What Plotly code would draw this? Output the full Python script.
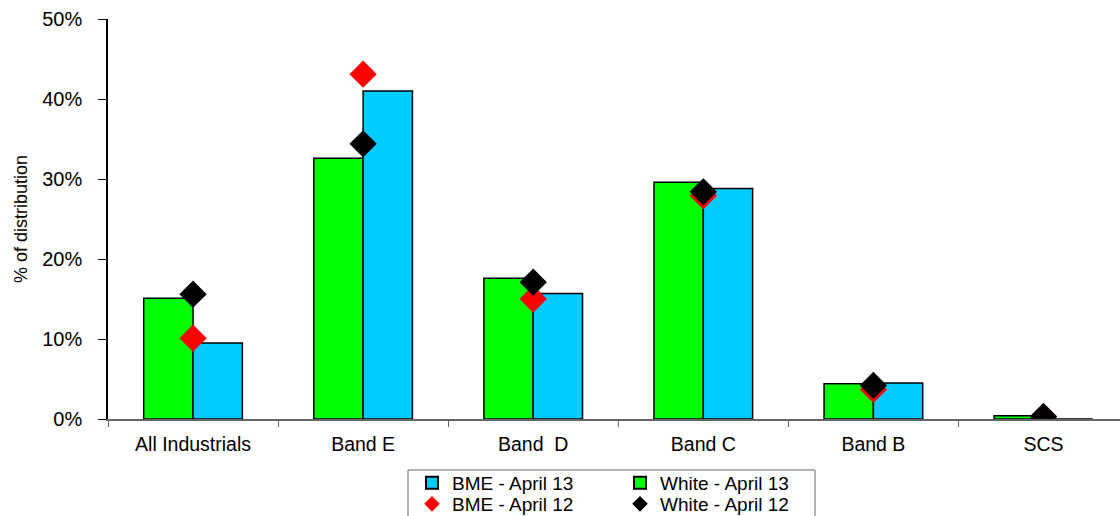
import plotly.graph_objects as go

categories = ["All Industrials", "Band E", "Band  D", "Band C", "Band B", "SCS"]
white_apr13 = [0.151, 0.326, 0.176, 0.296, 0.044, 0.004]
bme_apr13 = [0.095, 0.410, 0.157, 0.288, 0.045, 0.000]
bme_apr12 = [0.101, 0.431, 0.150, 0.279, 0.037, 0.003]
white_apr12 = [0.156, 0.344, 0.171, 0.284, 0.042, 0.003]
y_ticks = [0, 0.1, 0.2, 0.3, 0.4, 0.5]

FONT = "Liberation Sans, Arial, sans-serif"
W, H = 1120, 516
ML, MR, MT, MB = 108, 0, 19, 97
PW, PH = W - ML - MR, H - MT - MB


def px_x(x):
    return (x - ML) / PW


def px_y(y):
    return (H - MB - y) / PH


fig = go.Figure()
bar_line = dict(color="#000000", width=1.5)
fig.add_trace(go.Bar(x=categories, y=white_apr13, name="White - April 13",
                     marker=dict(color="#00FF00", line=bar_line),
                     legend="legend2"))
fig.add_trace(go.Bar(x=categories, y=bme_apr13, name="BME - April 13",
                     marker=dict(color="#00CCFF", line=bar_line),
                     legend="legend"))
fig.add_trace(go.Scatter(x=categories, y=bme_apr12, name="BME - April 12",
                         mode="markers",
                         marker=dict(symbol="diamond", size=21, color="#FF0000"),
                         legend="legend3"))
fig.add_trace(go.Scatter(x=categories, y=white_apr12, name="White - April 12",
                         mode="markers",
                         marker=dict(symbol="diamond", size=21, color="#000000"),
                         legend="legend4"))


def legend_box(x_px, y_px):
    # one legend entry per box, placed on a 2x2 grid
    return dict(
        font=dict(family=FONT, size=19, color="#000000"),
        bgcolor="rgba(0,0,0,0)", borderwidth=0,
        orientation="v", xanchor="left", yanchor="top",
        itemsizing="constant",
        x=px_x(x_px), y=px_y(y_px),
    )


fig.update_layout(
    width=W, height=H,
    margin=dict(l=ML, r=MR, t=MT, b=MB, pad=0, autoexpand=False),
    paper_bgcolor="#FFFFFF", plot_bgcolor="#FFFFFF",
    font=dict(family=FONT, size=19, color="#000000"),
    barmode="group", bargap=0.42, bargroupgap=0,
    showlegend=True,
    legend=legend_box(412, 464),
    legend2=legend_box(620, 464),
    legend3=legend_box(412, 485),
    legend4=legend_box(620, 485),
    shapes=[dict(type="rect", xref="paper", yref="paper",
                 x0=px_x(408), x1=px_x(815), y0=px_y(470), y1=px_y(530),
                 line=dict(color="#666666", width=1), fillcolor="rgba(0,0,0,0)")],
)

fig.update_xaxes(
    type="category", range=[-0.5, 5.45],
    showline=True, linecolor="#666666", linewidth=1.5,
    ticks="outside", ticklen=6, tickcolor="#666666", tickson="boundaries",
    tickfont=dict(family=FONT, size=19.5), ticklabelstandoff=7,
    showgrid=False, zeroline=False,
)
fig.update_yaxes(
    range=[0, 0.5], tickvals=y_ticks, tickformat=".0%",
    showline=True, linecolor="#000000", linewidth=1.5,
    ticks="outside", ticklen=8, tickcolor="#000000",
    tickfont=dict(family=FONT, size=20), ticklabelstandoff=12,
    showgrid=False, zeroline=False,
    title=dict(text="% of distribution", font=dict(family=FONT, size=18), standoff=10),
)

fig.write_html("out.html")
